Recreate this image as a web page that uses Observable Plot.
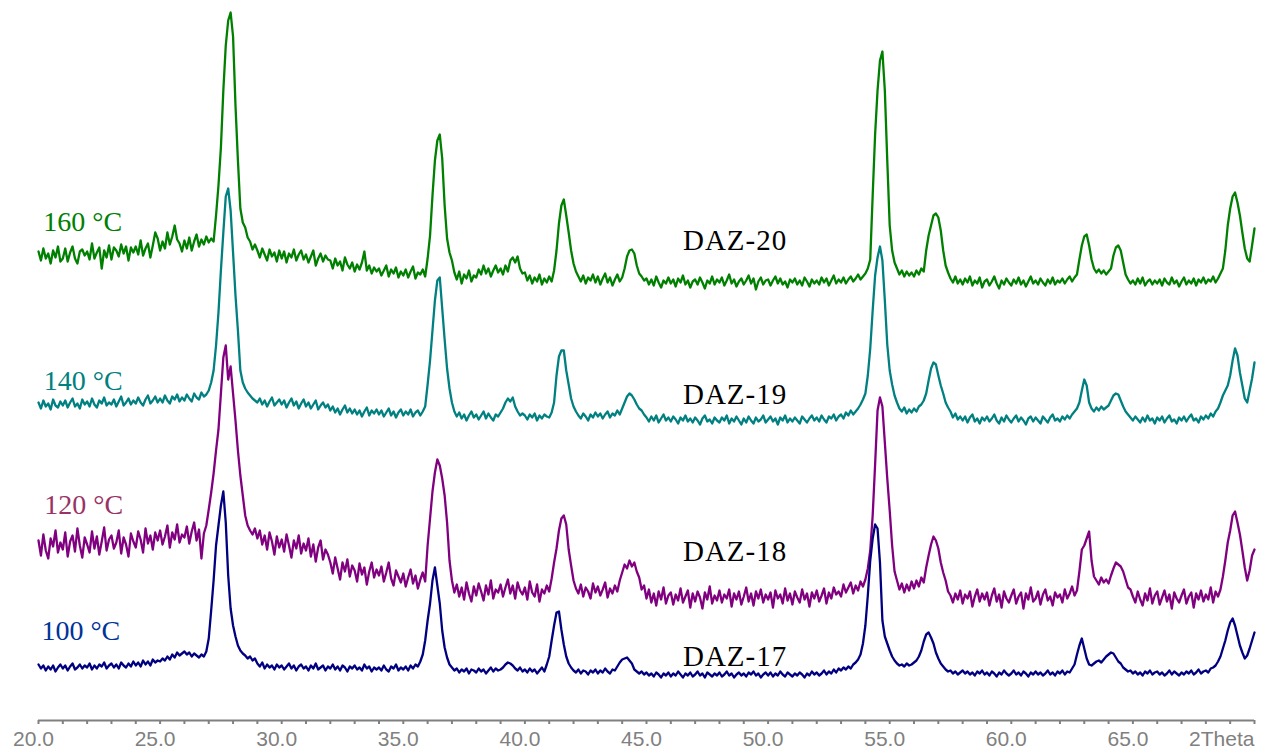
<!DOCTYPE html>
<html>
<head>
<meta charset="utf-8">
<script src="https://cdn.jsdelivr.net/npm/d3@7"></script>
<script src="https://cdn.jsdelivr.net/npm/@observablehq/plot@0.6"></script>
<style>
  html, body { margin: 0; padding: 0; background: #ffffff; }
  #chart svg { display: block; }
</style>
</head>
<body>
<div id="chart"></div>
<script>
// 2θ sampling of the digitised patterns (degrees)
const thetaStart = 20;
const thetaStep = 0.1;

// Series metadata
const seriesKeys = ["s160", "s140", "s120", "s100"];
const tempLabels = ["160 °C", "140 °C", "120 °C", "100 °C"];
const sampleLabels = ["DAZ-20", "DAZ-19", "DAZ-18", "DAZ-17"];
const lineColors = ["#008000", "#008080", "#800080", "#000080"];
const tempLabelColors = ["#008000", "#008080", "#993366", "#003399"];

// Offset intensities (a.u.), one value per 0.1° from 20.0° to 70.0°
const s160 = [
469,460,472,462,467,457,470,463,474,459,
462,472,459,468,474,462,457,469,471,465,
469,461,477,462,468,473,452,470,463,475,
461,473,470,464,476,467,474,460,473,468,
474,466,480,465,472,477,463,475,488,482,
470,479,472,488,476,484,495,481,477,469,
480,472,483,470,479,486,474,481,476,484,
478,482,479,505,535,573,630,675,700,708,
684,615,560,512,498,493,483,479,471,476,
470,463,472,466,460,471,464,468,459,470,
462,469,458,467,463,471,460,466,470,461,
466,458,464,470,455,462,467,459,465,461,
460,452,462,455,459,450,463,456,452,458,
449,456,451,458,469,450,455,447,453,449,
452,445,450,455,444,451,447,453,443,449,
445,451,443,449,454,442,448,446,451,444,
462,485,525,560,580,586,562,515,482,468,
460,448,441,449,437,446,442,450,439,445,
443,451,446,455,447,452,444,450,455,448,
452,446,455,449,460,463,458,464,452,447,
448,440,445,437,443,439,446,436,442,438,
444,439,450,470,497,515,521,505,488,470,
457,449,444,439,445,437,443,440,446,438,
444,436,442,447,438,443,435,441,446,439,
443,452,464,470,471,467,455,447,444,440,
442,436,441,435,444,438,433,440,437,443,
437,441,434,442,438,445,436,440,433,439,
441,436,443,438,432,440,437,444,436,441,
438,443,435,440,446,437,441,434,439,442,
436,440,445,437,442,431,439,443,436,440,
441,435,440,444,437,442,436,439,433,441,
438,442,436,440,435,443,439,434,441,437,
440,436,443,438,442,435,440,445,437,441,
438,443,437,441,444,439,442,446,441,444,
447,452,461,525,586,630,660,669,630,560,
495,470,458,452,446,450,444,449,445,448,
444,450,446,452,449,470,485,495,505,507,
503,490,470,455,448,442,438,444,437,441,
436,442,438,444,435,440,437,443,433,439,
441,435,439,444,437,432,440,436,442,438,
435,441,437,443,436,440,434,439,444,437,
440,436,442,438,435,441,437,443,436,440,
438,442,437,441,444,439,443,446,461,475,
484,486,475,461,452,448,451,447,450,446,
449,452,465,473,475,470,458,446,441,437,
440,436,442,437,443,435,439,441,436,440,
437,441,435,442,438,436,443,437,440,434,
439,443,436,440,437,442,435,441,438,443,
437,441,439,444,438,442,447,452,470,495,
512,524,528,518,505,488,472,462,459,475,
492
];

const s140 = [
318,312,320,314,317,311,321,315,313,319,
315,320,313,318,322,314,317,312,321,316,
319,314,322,316,313,320,317,323,315,318,
316,321,314,319,324,315,318,322,316,320,
317,323,318,315,321,325,317,320,324,318,
322,318,325,320,317,324,321,326,319,323,
320,326,322,319,327,323,321,328,324,326,
330,338,350,375,408,450,488,524,532,510,
468,425,390,350,338,332,328,325,322,320,
318,322,316,320,314,319,323,315,318,321,
316,320,313,318,322,315,319,312,317,321,
314,318,312,316,320,311,315,318,313,316,
310,314,308,312,306,311,315,308,312,307,
311,306,310,304,309,313,305,310,307,311,
306,310,304,308,312,305,309,303,308,311,
305,309,306,311,304,308,310,305,309,314,
336,360,390,420,440,443,412,381,352,332,
318,309,304,308,302,306,300,305,309,303,
306,301,305,309,302,307,303,300,306,304,
308,312,318,322,319,323,314,309,305,307,
305,301,306,303,307,300,305,302,306,304,
303,308,318,345,364,370,370,350,336,322,
314,309,305,302,307,304,300,306,303,308,
304,307,302,306,309,303,307,305,310,306,
312,318,324,327,325,321,316,312,310,306,
303,299,304,300,305,298,302,306,300,303,
299,304,301,297,303,300,305,299,302,298,
303,300,296,302,305,299,301,297,303,300,
298,303,300,305,297,302,299,304,300,296,
302,298,304,300,297,303,299,301,305,298,
301,304,299,302,296,303,300,305,298,302,
299,303,300,297,304,301,298,302,305,300,
303,299,305,301,298,304,302,306,300,304,
306,302,308,305,310,306,309,312,316,321,
327,345,372,410,445,463,474,460,420,376,
350,336,325,318,312,309,313,307,311,308,
312,309,314,316,320,327,340,352,358,356,
345,335,327,318,313,309,303,307,301,304,
300,304,298,303,306,299,302,297,303,300,
304,299,302,306,300,297,303,299,305,301,
298,302,305,299,303,300,296,302,304,299,
303,300,297,304,301,298,303,306,300,302,
299,304,301,305,302,306,309,312,318,330,
341,335,318,312,309,313,310,314,311,313,
315,320,325,327,326,320,314,309,306,303,
300,304,301,298,303,299,305,300,302,297,
303,300,304,298,302,305,299,301,297,303,
300,304,299,303,306,300,302,298,304,301,
305,302,307,304,309,312,318,325,330,335,
345,360,372,365,348,335,322,318,330,342,
358
];

const s120 = [
180,165,186,170,162,182,174,190,168,178,
171,188,164,179,185,169,192,175,163,183,
176,168,189,172,184,166,179,193,170,181,
185,172,178,190,167,183,176,164,187,179,
173,189,181,168,192,177,185,171,188,180,
190,176,184,195,173,188,181,196,178,186,
183,194,177,189,198,180,191,162,187,195,
211,228,247,270,291,327,363,375,341,354,
327,300,270,245,225,205,195,190,186,192,
182,190,176,185,171,188,179,166,184,173,
181,169,186,175,163,180,172,185,167,177,
170,182,164,176,159,173,180,161,171,166,
158,147,163,152,141,158,149,161,144,155,
150,139,157,146,153,136,149,158,143,151,
145,154,139,148,158,142,135,150,144,138,
147,134,143,151,137,145,132,141,148,139,
175,202,229,248,261,255,242,225,198,160,
140,128,136,124,133,121,138,127,119,134,
125,137,129,120,135,126,140,122,131,128,
136,124,133,141,127,135,122,138,130,126,
133,121,139,128,124,136,119,131,127,135,
129,142,158,172,190,202,205,196,171,155,
140,132,127,136,124,133,129,122,137,128,
134,125,131,138,123,132,127,135,129,140,
148,156,152,160,154,158,149,143,131,135,
122,131,118,127,115,129,121,133,117,125,
128,116,126,120,132,118,124,130,113,127,
119,129,123,112,128,121,134,117,125,120,
130,118,126,122,131,114,127,121,129,116,
124,133,119,127,115,129,122,131,118,126,
121,128,113,130,122,126,117,132,120,127,
116,129,123,118,131,121,127,114,128,122,
130,119,125,132,117,128,122,133,126,129,
124,136,128,133,138,127,135,130,139,134,
141,152,170,205,256,310,323,314,278,242,
210,175,149,140,131,137,128,136,130,139,
132,140,134,143,138,153,165,176,184,180,
172,158,148,140,129,125,118,127,121,130,
117,126,122,129,114,124,131,119,127,121,
128,115,125,132,119,126,113,129,122,118,
125,131,117,124,128,112,127,121,133,119,
122,129,116,126,131,120,124,115,128,123,
126,118,131,122,127,134,125,130,149,171,
175,182,189,160,144,140,136,143,138,141,
137,145,152,158,156,154,149,141,133,131,
124,118,129,121,115,127,120,132,117,125,
129,116,123,130,119,126,112,128,122,118,
125,131,117,124,128,113,127,121,130,119,
126,121,133,118,129,124,131,144,160,178,
190,205,209,198,186,170,153,140,150,165,
171
];

const s100 = [
56,52,55,50,54,51,55,49,53,56,
52,55,50,54,57,51,53,56,52,55,
53,57,51,55,52,56,54,58,52,55,
57,53,56,52,58,55,53,57,54,59,
55,58,54,60,56,59,55,61,58,60,
59,62,60,64,61,66,63,68,65,67,
69,66,68,64,67,65,63,66,64,69,
82,110,140,175,195,215,229,198,145,112,
95,84,75,70,67,65,62,64,60,62,
57,54,58,52,56,53,55,51,56,53,
55,51,54,57,52,55,50,54,56,52,
54,50,55,52,57,51,53,55,50,54,
52,56,51,54,50,55,53,49,54,52,
55,51,53,50,56,52,54,49,53,51,
53,50,55,51,49,54,52,56,50,53,
51,54,50,55,52,56,54,59,66,80,
100,117,140,153,135,117,90,73,63,56,
53,50,52,48,51,49,52,47,51,50,
48,52,49,51,47,50,53,49,52,50,
51,53,56,58,57,55,52,50,53,49,
51,48,52,49,51,47,50,53,49,56,
64,80,95,108,109,91,76,64,57,53,
50,48,51,47,50,49,46,50,48,51,
47,50,48,52,49,47,51,50,54,58,
61,62,63,60,57,51,49,47,49,46,
48,45,47,44,48,46,43,47,45,48,
44,47,45,49,46,43,47,45,48,44,
46,49,45,47,43,48,46,44,47,45,
48,44,46,49,45,47,43,46,48,45,
47,44,48,46,49,45,47,43,46,48,
45,48,44,47,45,49,46,44,48,46,
44,47,45,48,46,43,47,45,49,46,
48,45,47,50,46,49,47,51,48,52,
50,53,51,54,52,56,58,61,66,77,
95,125,160,182,196,192,158,100,84,77,
70,64,60,57,55,56,54,57,55,56,
58,60,64,70,79,86,88,83,77,68,
62,57,54,51,49,50,47,49,46,48,
50,47,49,46,48,45,49,47,50,46,
48,45,49,47,44,48,46,50,47,45,
47,50,46,48,45,49,47,44,48,46,
49,46,48,45,47,50,46,48,45,49,
47,50,46,49,48,52,56,66,75,82,
72,62,56,55,57,59,60,58,61,64,
66,68,67,63,59,57,53,51,49,50,
47,49,46,48,45,49,47,50,46,48,
49,46,48,45,47,50,46,49,47,45,
48,46,49,47,50,46,48,51,47,49,
50,48,52,53,55,59,64,72,80,90,
98,102,95,85,75,68,62,65,72,80,
88
];

// Axis ticks
const minorTicks = d3.range(20, 71, 1);
const majorTicks = [20, 25, 30, 35, 40, 45, 50, 55, 60, 65];
const axisEndLabel = "2Theta";

// Annotation anchors (2θ, offset intensity)
const tempLabelTheta = [20.2, 20.22, 20.24, 20.12];
const tempLabelLevel = [490, 331, 207, 81];
const sampleLabelTheta = [46.5, 46.5, 46.5, 46.5];
const sampleLabelLevel = [471, 317, 160, 55];

// Build tables for Plot
const seriesValues = {s160, s140, s120, s100};
const rows = seriesKeys.flatMap((key, k) =>
  seriesValues[key].map((v, i) => ({
    theta: +(thetaStart + i * thetaStep).toFixed(2),
    intensity: v,
    series: key,
    color: lineColors[k]
  }))
);
const tempAnn = tempLabels.map((t, k) => ({theta: tempLabelTheta[k], level: tempLabelLevel[k], text: t, color: tempLabelColors[k]}));
const sampleAnn = sampleLabels.map((t, k) => ({theta: sampleLabelTheta[k], level: sampleLabelLevel[k], text: t}));

const axisGray = "#808080";

const chart = Plot.plot({
  width: 1266,
  height: 751,
  marginLeft: 38,
  marginRight: 12,
  marginTop: 0,
  marginBottom: 31,
  x: {domain: [20, 70], label: null},
  y: {domain: [0, 720], axis: null, label: null},
  color: {type: "identity"},
  style: {background: "#ffffff", overflow: "visible"},
  marks: [
    Plot.ruleY([0], {stroke: axisGray, strokeWidth: 2}),
    Plot.axisX(minorTicks, {tickSize: 4, stroke: axisGray, strokeWidth: 2, fill: "none", label: null}),
    Plot.axisX(majorTicks, {
      tickSize: 0, tickPadding: 11, tickFormat: d3.format(".1f"), dx: -5,
      fill: axisGray, fontSize: 21, fontFamily: "Liberation Sans, Arial, sans-serif", label: null
    }),
    Plot.axisX([70], {
      tickSize: 0, tickPadding: 11, tickFormat: () => axisEndLabel, textAnchor: "end",
      fill: axisGray, fontSize: 21, fontFamily: "Liberation Sans, Arial, sans-serif", label: null
    }),
    Plot.line(rows, {
      x: "theta", y: "intensity", z: "series", stroke: "color",
      strokeWidth: 2.3, strokeLinejoin: "round", strokeLinecap: "round"
    }),
    Plot.text(tempAnn, {
      x: "theta", y: "level", text: "text", fill: "color",
      textAnchor: "start", lineAnchor: "bottom",
      fontSize: 28, fontFamily: "Liberation Serif, Times New Roman, serif"
    }),
    Plot.text(sampleAnn, {
      x: "theta", y: "level", text: "text", fill: "#000000",
      textAnchor: "start", lineAnchor: "bottom",
      fontSize: 29, fontFamily: "Liberation Serif, Times New Roman, serif"
    })
  ]
});

chart.querySelectorAll("text").forEach(t => {
  if (t.textContent.startsWith("DAZ")) t.setAttribute("letter-spacing", "1");
});

document.getElementById("chart").appendChild(chart);
</script>
</body>
</html>
